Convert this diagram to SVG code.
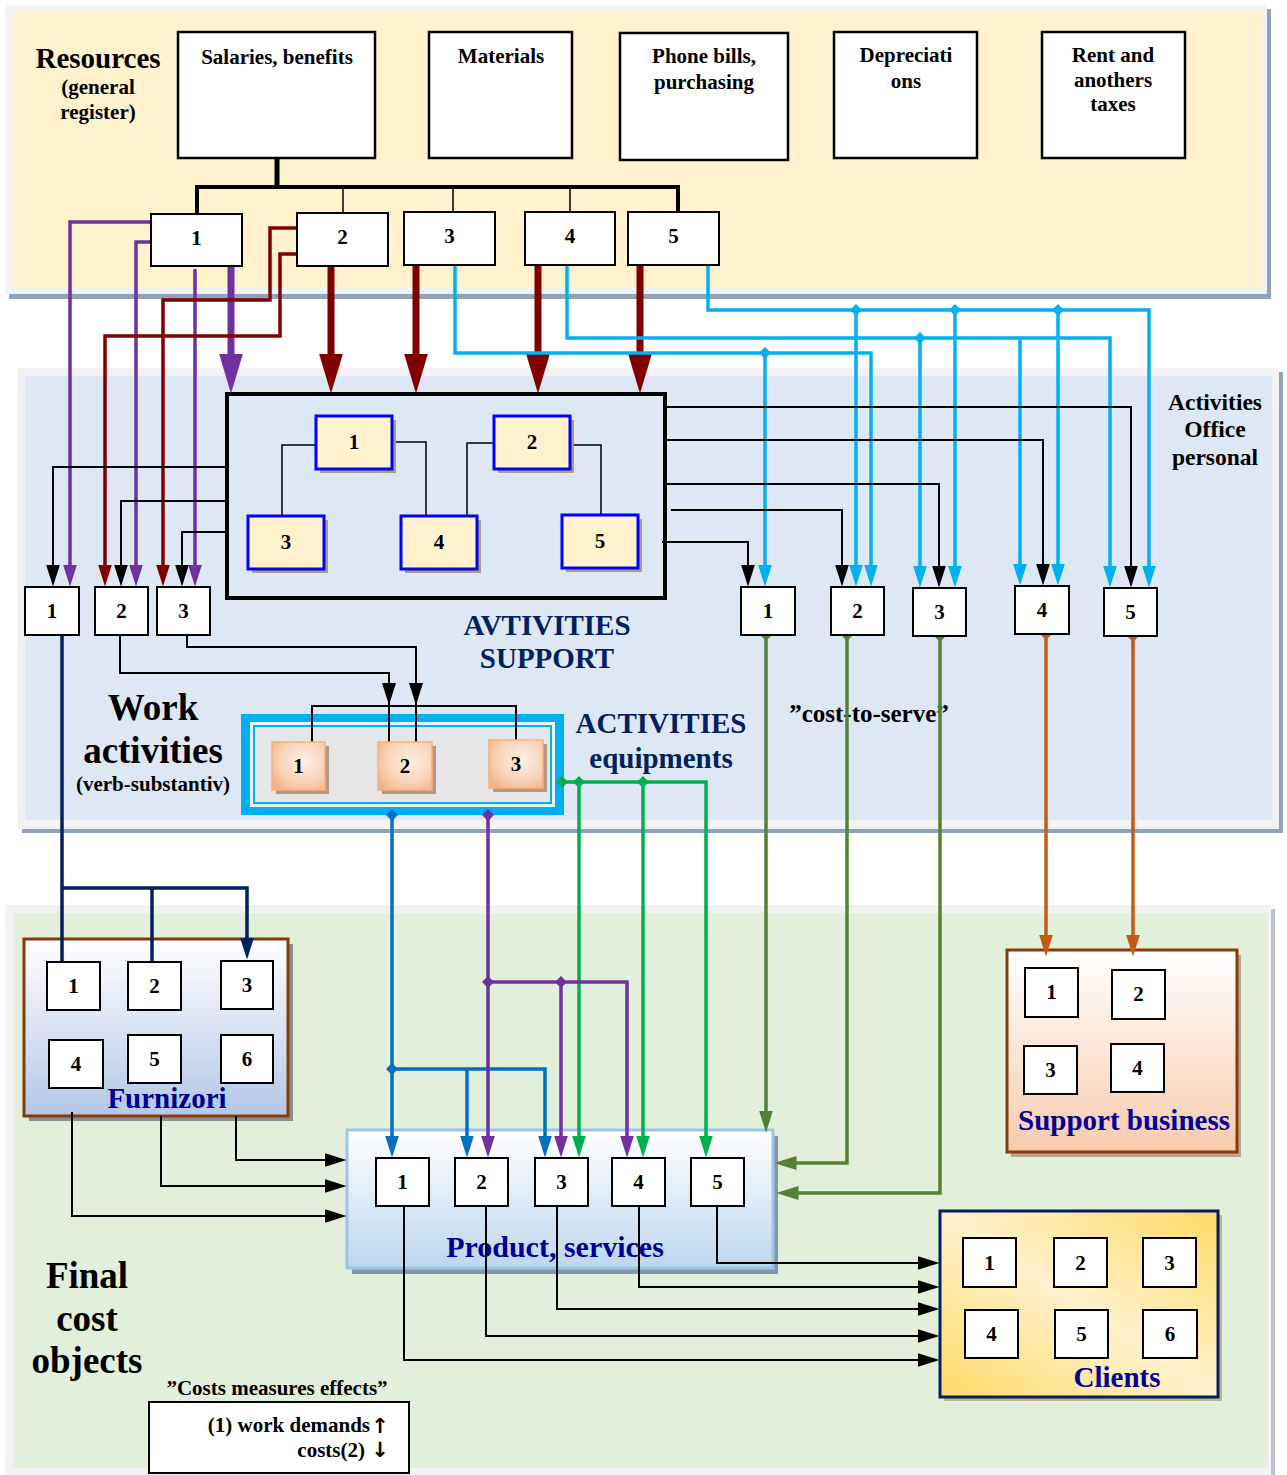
<svg xmlns="http://www.w3.org/2000/svg" width="1287" height="1475" viewBox="0 0 1287 1475">
<style>
.t{font-family:"Liberation Serif","Times New Roman",serif;font-weight:bold;fill:#000}
.n{font-size:21px;text-anchor:middle}
.h{text-anchor:middle}
.navy{fill:#002060}
.dblue{fill:#000099}
.wb{fill:#fff;stroke:#000;stroke-width:2}
.tb{fill:#fff;stroke:#000;stroke-width:2.5}
.yb{fill:#FFF2CC;stroke:#0000FF;stroke-width:3}
.ysh{fill:#A99E7F}
.ob{fill:url(#gOr);stroke:#F4B183;stroke-width:1.5}
.osh{fill:#B8977F}
.c{fill:none;stroke-linejoin:miter}
.k{stroke:#000;stroke-width:2}
.pu{stroke:#7030A0;stroke-width:3.5}
.dr{stroke:#800000;stroke-width:3.5}
.cy{stroke:#00B0F0;stroke-width:3.5}
.ol{stroke:#548235;stroke-width:3.5}
.or{stroke:#C55A11;stroke-width:3.5}
.gr{stroke:#00B050;stroke-width:3.5}
.bl{stroke:#0070C0;stroke-width:3.5}
.nv{stroke:#002060;stroke-width:3.5}
.thick{stroke-width:7}
</style>
<defs>
<linearGradient id="gFur" x1="0" y1="0" x2="0" y2="1"><stop offset="0" stop-color="#FFFFFF"/><stop offset="1" stop-color="#B4C7E7"/></linearGradient>
<linearGradient id="gSup" x1="0" y1="0" x2="0" y2="1"><stop offset="0" stop-color="#FFFFFF"/><stop offset="1" stop-color="#F8CBAD"/></linearGradient>
<linearGradient id="gPro" x1="0" y1="0" x2="0" y2="1"><stop offset="0" stop-color="#FFFFFF"/><stop offset="1" stop-color="#BDD7EE"/></linearGradient>
<linearGradient id="gCli" x1="0" y1="1" x2="1" y2="0"><stop offset="0" stop-color="#FFD966"/><stop offset="0.5" stop-color="#FFF2CC"/><stop offset="1" stop-color="#FFD966"/></linearGradient>
<radialGradient id="gOr" cx="0.6" cy="0.4" r="0.75"><stop offset="0" stop-color="#FDEEE4"/><stop offset="0.6" stop-color="#F9D3B8"/><stop offset="1" stop-color="#F4B183"/></radialGradient>
<marker id="aK" viewBox="0 0 22 14" markerWidth="22" markerHeight="14" refX="0.5" refY="7" orient="auto" markerUnits="userSpaceOnUse"><path d="M0,0 L22,7 L0,14 z" fill="#000"/></marker>
<marker id="aPu" viewBox="0 0 22 14" markerWidth="22" markerHeight="14" refX="0.5" refY="7" orient="auto" markerUnits="userSpaceOnUse"><path d="M0,0 L22,7 L0,14 z" fill="#7030A0"/></marker>
<marker id="aDr" viewBox="0 0 22 14" markerWidth="22" markerHeight="14" refX="0.5" refY="7" orient="auto" markerUnits="userSpaceOnUse"><path d="M0,0 L22,7 L0,14 z" fill="#800000"/></marker>
<marker id="aCy" viewBox="0 0 22 14" markerWidth="22" markerHeight="14" refX="0.5" refY="7" orient="auto" markerUnits="userSpaceOnUse"><path d="M0,0 L22,7 L0,14 z" fill="#00B0F0"/></marker>
<marker id="aOl" viewBox="0 0 22 14" markerWidth="22" markerHeight="14" refX="0.5" refY="7" orient="auto" markerUnits="userSpaceOnUse"><path d="M0,0 L22,7 L0,14 z" fill="#548235"/></marker>
<marker id="aOr" viewBox="0 0 22 14" markerWidth="22" markerHeight="14" refX="0.5" refY="7" orient="auto" markerUnits="userSpaceOnUse"><path d="M0,0 L22,7 L0,14 z" fill="#C55A11"/></marker>
<marker id="aGr" viewBox="0 0 22 14" markerWidth="22" markerHeight="14" refX="0.5" refY="7" orient="auto" markerUnits="userSpaceOnUse"><path d="M0,0 L22,7 L0,14 z" fill="#00B050"/></marker>
<marker id="aBl" viewBox="0 0 22 14" markerWidth="22" markerHeight="14" refX="0.5" refY="7" orient="auto" markerUnits="userSpaceOnUse"><path d="M0,0 L22,7 L0,14 z" fill="#0070C0"/></marker>
<marker id="aNv" viewBox="0 0 22 14" markerWidth="22" markerHeight="14" refX="0.5" refY="7" orient="auto" markerUnits="userSpaceOnUse"><path d="M0,0 L22,7 L0,14 z" fill="#002060"/></marker>
<marker id="tPu" viewBox="0 0 40 24" markerWidth="40" markerHeight="24" refX="0.5" refY="12" orient="auto" markerUnits="userSpaceOnUse"><path d="M0,0 L40,12 L0,24 z" fill="#7030A0"/></marker>
<marker id="tDr" viewBox="0 0 40 24" markerWidth="40" markerHeight="24" refX="0.5" refY="12" orient="auto" markerUnits="userSpaceOnUse"><path d="M0,0 L40,12 L0,24 z" fill="#800000"/></marker>
<marker id="dCy" viewBox="0 0 12 12" markerWidth="12" markerHeight="12" refX="6" refY="6" orient="0" markerUnits="userSpaceOnUse"><path d="M6,0 L12,6 L6,12 L0,6 z" fill="#00B0F0"/></marker>
<marker id="dOl" viewBox="0 0 12 12" markerWidth="12" markerHeight="12" refX="6" refY="6" orient="0" markerUnits="userSpaceOnUse"><path d="M6,0 L12,6 L6,12 L0,6 z" fill="#548235"/></marker>
<marker id="dOr" viewBox="0 0 12 12" markerWidth="12" markerHeight="12" refX="6" refY="6" orient="0" markerUnits="userSpaceOnUse"><path d="M6,0 L12,6 L6,12 L0,6 z" fill="#C55A11"/></marker>
<marker id="dGr" viewBox="0 0 12 12" markerWidth="12" markerHeight="12" refX="6" refY="6" orient="0" markerUnits="userSpaceOnUse"><path d="M6,0 L12,6 L6,12 L0,6 z" fill="#00B050"/></marker>
<marker id="dBl" viewBox="0 0 12 12" markerWidth="12" markerHeight="12" refX="6" refY="6" orient="0" markerUnits="userSpaceOnUse"><path d="M6,0 L12,6 L6,12 L0,6 z" fill="#0070C0"/></marker>
<marker id="dPu" viewBox="0 0 12 12" markerWidth="12" markerHeight="12" refX="6" refY="6" orient="0" markerUnits="userSpaceOnUse"><path d="M6,0 L12,6 L6,12 L0,6 z" fill="#7030A0"/></marker>
</defs>

<rect x="0" y="0" width="1287" height="1475" fill="#fff"/>

<g id="bands">
  <rect x="9" y="9" width="1262" height="290" fill="#8FA3BA"/>
  <rect x="5" y="5" width="1262" height="289" fill="#F2F2F2"/>
  <rect x="13" y="12" width="1249" height="276" fill="#FFF2CC"/>
  <rect x="22" y="372" width="1261" height="461" fill="#8FA3BA"/>
  <rect x="18" y="368" width="1261" height="461" fill="#F2F2F2"/>
  <rect x="25" y="376" width="1247" height="444" fill="#DEE8F4"/>
  <rect x="9" y="909" width="1266" height="570" fill="#B7C6D6"/>
  <rect x="5" y="905" width="1266" height="570" fill="#F2F2F2"/>
  <rect x="13" y="913" width="1255" height="555" fill="#E2EFDA"/>
</g>

<g id="labels">
  <text class="t h" x="98" y="68" font-size="29">Resources</text>
  <text class="t h" x="98" y="94" font-size="21">(general</text>
  <text class="t h" x="98" y="119" font-size="21">register)</text>
  <text class="t h" x="153" y="720" font-size="37">Work</text>
  <text class="t h" x="153" y="763" font-size="37">activities</text>
  <text class="t h" x="153" y="791" font-size="21">(verb-substantiv)</text>
  <text class="t h navy" x="547" y="635" font-size="29">AVTIVITIES</text>
  <text class="t h navy" x="547" y="668" font-size="29">SUPPORT</text>
  <text class="t h navy" x="661" y="733" font-size="29">ACTIVITIES</text>
  <text class="t h navy" x="661" y="768" font-size="29">equipments</text>
  <text class="t h" x="1215" y="410" font-size="23.5">Activities</text>
  <text class="t h" x="1215" y="437" font-size="23.5">Office</text>
  <text class="t h" x="1215" y="465" font-size="23.5">personal</text>
  <text class="t h" x="869" y="722" font-size="25">”cost-to-serve”</text>
  <text class="t h" x="87" y="1288" font-size="37">Final</text>
  <text class="t h" x="87" y="1331" font-size="37">cost</text>
  <text class="t h" x="87" y="1373" font-size="37">objects</text>
  <text class="t h" x="277" y="1395" font-size="21">”Costs measures effects”</text>
</g>

<g id="res-salaries"><rect class="tb" x="178" y="32" width="197" height="126"/><text class="t h" x="277" y="64" font-size="21">Salaries, benefits</text></g>
<g id="res-materials"><rect class="tb" x="429" y="32" width="143" height="126"/><text class="t h" x="501" y="63" font-size="21">Materials</text></g>
<g id="res-phone"><rect class="tb" x="620" y="33" width="168" height="127"/><text class="t h" x="704" y="63" font-size="21">Phone bills,</text><text class="t h" x="704" y="89" font-size="21">purchasing</text></g>
<g id="res-depr"><rect class="tb" x="834" y="32" width="143" height="126"/><text class="t h" x="906" y="62" font-size="21">Depreciati</text><text class="t h" x="906" y="88" font-size="21">ons</text></g>
<g id="res-rent"><rect class="tb" x="1042" y="32" width="143" height="126"/><text class="t h" x="1113" y="62" font-size="21">Rent and</text><text class="t h" x="1113" y="87" font-size="21">anothers</text><text class="t h" x="1113" y="111" font-size="21">taxes</text></g>

<g id="support">
  <rect x="227" y="394" width="438" height="204" fill="#DEE8F4" stroke="#000" stroke-width="4"/>
</g>
<g id="equipments">
  <rect x="241" y="714" width="323" height="101" fill="#00B0F0"/>
  <rect x="250" y="722" width="305" height="85" fill="#EAF3FB"/>
  <rect x="254" y="726" width="297" height="77" fill="#E7E6E6" stroke="#00B0F0" stroke-width="2"/>
</g>
<g id="furnizori">
  <rect x="29" y="944" width="264" height="177" fill="#8E8E8E"/>
  <rect x="24" y="939" width="264" height="177" fill="url(#gFur)" stroke="#843C0C" stroke-width="3"/>
  <text class="t h dblue" x="167" y="1108" font-size="29">Furnizori</text>
</g>
<g id="support-business">
  <rect x="1011" y="955" width="230" height="202" fill="#B9A590"/>
  <rect x="1007" y="950" width="230" height="202" fill="url(#gSup)" stroke="#843C0C" stroke-width="3"/>
  <text class="t h dblue" x="1124" y="1130" font-size="29">Support business</text>
</g>
<g id="product">
  <rect x="352" y="1136" width="426" height="138" fill="#8497B0"/>
  <rect x="347" y="1130" width="426" height="138" fill="url(#gPro)" stroke="#9DC3E6" stroke-width="3"/>
  <text class="t h dblue" x="555" y="1257" font-size="30">Product, services</text>
</g>
<g id="clients">
  <rect x="944" y="1215" width="278" height="186" fill="#BFB38A"/>
  <rect x="940" y="1211" width="278" height="186" fill="url(#gCli)" stroke="#002060" stroke-width="3"/>
  <text class="t h dblue" x="1117" y="1387" font-size="29">Clients</text>
</g>

<g id="connectors">
  <path class="c k" d="M197,214 V187 H678 V212" style="stroke-width:4"/>
  <path class="c k" d="M277,158 V187" style="stroke-width:5"/>
  <path class="c k" d="M343,187 V213 M453,187 V212 M570,187 V212" style="stroke-width:1.5"/>

  <path class="c pu" d="M151,222 H70 V565" marker-end="url(#aPu)"/>
  <path class="c pu" d="M151,242 H136 V565" marker-end="url(#aPu)"/>
  <path class="c pu" d="M195,269 V565" marker-end="url(#aPu)"/>
  <path class="c pu thick" d="M231,266 V354" marker-end="url(#tPu)"/>

  <path class="c dr" d="M297,228 H270 V300 H163 V565" marker-end="url(#aDr)"/>
  <path class="c dr" d="M297,254 H280 V336 H105 V565" marker-end="url(#aDr)"/>
  <path class="c dr thick" d="M331,266 V354" marker-end="url(#tDr)"/>
  <path class="c dr thick" d="M416,265 V354" marker-end="url(#tDr)"/>
  <path class="c dr thick" d="M538,265 V354" marker-end="url(#tDr)"/>
  <path class="c dr thick" d="M640,265 V354" marker-end="url(#tDr)"/>

  <path class="c cy" d="M455,265 V353 H871 V565" marker-end="url(#aCy)"/>
  <path class="c cy" d="M765,353 V565" marker-start="url(#dCy)" marker-end="url(#aCy)"/>
  <path class="c cy" d="M567,265 V338 H1110 V566" marker-end="url(#aCy)"/>
  <path class="c cy" d="M920,338 V566" marker-start="url(#dCy)" marker-end="url(#aCy)"/>
  <path class="c cy" d="M1020,338 V564" marker-end="url(#aCy)"/>
  <path class="c cy" d="M708,265 V310 H1149 V566" marker-end="url(#aCy)"/>
  <path class="c cy" d="M856,310 V565" marker-start="url(#dCy)" marker-end="url(#aCy)"/>
  <path class="c cy" d="M955,310 V566" marker-start="url(#dCy)" marker-end="url(#aCy)"/>
  <path class="c cy" d="M1058,310 V564" marker-start="url(#dCy)" marker-end="url(#aCy)"/>

  <path class="c k" d="M316,445 H282 V516 M392,442 H426 V516 M494,443 H467 V516 M570,445 H601 V515" style="stroke-width:1.5"/>

  <path class="c k" d="M227,467 H53 V565" marker-end="url(#aK)"/>
  <path class="c k" d="M227,501 H121 V565" marker-end="url(#aK)"/>
  <path class="c k" d="M227,532 H182 V565" marker-end="url(#aK)"/>
  <path class="c k" d="M665,407 H1131 V566" marker-end="url(#aK)"/>
  <path class="c k" d="M665,440 H1043 V564" marker-end="url(#aK)"/>
  <path class="c k" d="M665,484 H939 V566" marker-end="url(#aK)"/>
  <path class="c k" d="M671,510 H842 V565" marker-end="url(#aK)"/>
  <path class="c k" d="M662,542 H748 V565" marker-end="url(#aK)"/>

  <path class="c k" d="M120,635 V673 H389 V742"/>
  <path class="c k" d="M187,635 V647 H416 V742"/>
  <polygon points="382,683 396,683 389,705" fill="#000"/>
  <polygon points="409,683 423,683 416,705" fill="#000"/>
  <path class="c k" d="M312,742 V706 H516 V740"/>

  <path class="c nv" d="M62,635 V965"/>
  <path class="c nv" d="M62,888 H247 V938" marker-end="url(#aNv)"/>
  <path class="c nv" d="M152,888 V962"/>

  <path class="c ol" d="M766,635 V1111" marker-start="url(#dOl)" marker-end="url(#aOl)"/>
  <path class="c ol" d="M847,635 V1163 H796" marker-start="url(#dOl)" marker-end="url(#aOl)"/>
  <path class="c ol" d="M940,636 V1193 H798" marker-start="url(#dOl)" marker-end="url(#aOl)"/>

  <path class="c or" d="M1046,634 V935" marker-start="url(#dOr)" marker-end="url(#aOr)"/>
  <path class="c or" d="M1133,636 V935" marker-start="url(#dOr)" marker-end="url(#aOr)"/>

  <path class="c gr" d="M562,782 H706 V1136" marker-start="url(#dGr)" marker-end="url(#aGr)"/>
  <path class="c gr" d="M579,782 V1136" marker-start="url(#dGr)" marker-end="url(#aGr)"/>
  <path class="c gr" d="M643,782 V1136" marker-start="url(#dGr)" marker-end="url(#aGr)"/>

  <path class="c bl" d="M392,815 V1136" marker-start="url(#dBl)" marker-end="url(#aBl)"/>
  <path class="c bl" d="M392,1069 H545 V1136" marker-start="url(#dBl)" marker-end="url(#aBl)"/>
  <path class="c bl" d="M467,1069 V1136" marker-end="url(#aBl)"/>

  <path class="c pu" d="M488,815 V1136" marker-start="url(#dPu)" marker-end="url(#aPu)"/>
  <path class="c pu" d="M488,982 H627 V1136" marker-start="url(#dPu)" marker-end="url(#aPu)"/>
  <path class="c pu" d="M561,982 V1136" marker-start="url(#dPu)" marker-end="url(#aPu)"/>

  <path class="c k" d="M236,1116 V1160 H325" marker-end="url(#aK)"/>
  <path class="c k" d="M161,1116 V1186 H325" marker-end="url(#aK)"/>
  <path class="c k" d="M72,1112 V1216 H325" marker-end="url(#aK)"/>

  <path class="c k" d="M717,1206 V1263 H918" marker-end="url(#aK)"/>
  <path class="c k" d="M639,1206 V1287 H918" marker-end="url(#aK)"/>
  <path class="c k" d="M557,1206 V1309 H918" marker-end="url(#aK)"/>
  <path class="c k" d="M486,1206 V1336 H918" marker-end="url(#aK)"/>
  <path class="c k" d="M404,1206 V1360 H918" marker-end="url(#aK)"/>
</g>

<g id="res-1"><rect class="wb" x="151" y="214" width="91" height="52"/><text class="t n" x="196.5" y="245">1</text></g>
<g id="res-2"><rect class="wb" x="297" y="213" width="91" height="53"/><text class="t n" x="342.5" y="244">2</text></g>
<g id="res-3"><rect class="wb" x="404" y="212" width="91" height="53"/><text class="t n" x="449.5" y="243">3</text></g>
<g id="res-4"><rect class="wb" x="525" y="212" width="90" height="53"/><text class="t n" x="570" y="243">4</text></g>
<g id="res-5"><rect class="wb" x="628" y="212" width="91" height="53"/><text class="t n" x="673.5" y="243">5</text></g>

<g id="sup-1"><rect class="ysh" x="320" y="420" width="76" height="53"/><rect class="yb" x="316" y="416" width="76" height="53"/><text class="t n" x="354" y="449">1</text></g>
<g id="sup-2"><rect class="ysh" x="498" y="420" width="76" height="53"/><rect class="yb" x="494" y="416" width="76" height="53"/><text class="t n" x="532" y="449">2</text></g>
<g id="sup-3"><rect class="ysh" x="252" y="520" width="76" height="53"/><rect class="yb" x="248" y="516" width="76" height="53"/><text class="t n" x="286" y="549">3</text></g>
<g id="sup-4"><rect class="ysh" x="405" y="520" width="76" height="53"/><rect class="yb" x="401" y="516" width="76" height="53"/><text class="t n" x="439" y="549">4</text></g>
<g id="sup-5"><rect class="ysh" x="566" y="519" width="76" height="53"/><rect class="yb" x="562" y="515" width="76" height="53"/><text class="t n" x="600" y="548">5</text></g>

<g id="left-1"><rect class="wb" x="25" y="587" width="54" height="48"/><text class="t n" x="52" y="618">1</text></g>
<g id="left-2"><rect class="wb" x="95" y="587" width="53" height="48"/><text class="t n" x="121.5" y="618">2</text></g>
<g id="left-3"><rect class="wb" x="157" y="587" width="53" height="48"/><text class="t n" x="183.5" y="618">3</text></g>

<g id="right-1"><rect class="wb" x="741" y="587" width="54" height="48"/><text class="t n" x="768" y="618">1</text></g>
<g id="right-2"><rect class="wb" x="831" y="587" width="53" height="48"/><text class="t n" x="857.5" y="618">2</text></g>
<g id="right-3"><rect class="wb" x="913" y="588" width="53" height="48"/><text class="t n" x="939.5" y="619">3</text></g>
<g id="right-4"><rect class="wb" x="1015" y="586" width="54" height="48"/><text class="t n" x="1042" y="617">4</text></g>
<g id="right-5"><rect class="wb" x="1104" y="588" width="53" height="48"/><text class="t n" x="1130.5" y="619">5</text></g>

<g id="eq-1"><rect class="osh" x="276" y="746" width="53" height="48"/><rect class="ob" x="272" y="742" width="53" height="48"/><text class="t n" x="298.5" y="773">1</text></g>
<g id="eq-2"><rect class="osh" x="382" y="746" width="54" height="48"/><rect class="ob" x="378" y="742" width="54" height="48"/><text class="t n" x="405" y="773">2</text></g>
<g id="eq-3"><rect class="osh" x="493" y="744" width="54" height="48"/><rect class="ob" x="489" y="740" width="54" height="48"/><text class="t n" x="516" y="771">3</text></g>

<g id="fur-1"><rect class="wb" x="47" y="962" width="53" height="48"/><text class="t n" x="73.5" y="993">1</text></g>
<g id="fur-2"><rect class="wb" x="128" y="962" width="53" height="48"/><text class="t n" x="154.5" y="993">2</text></g>
<g id="fur-3"><rect class="wb" x="221" y="961" width="52" height="48"/><text class="t n" x="247" y="992">3</text></g>
<g id="fur-4"><rect class="wb" x="49" y="1040" width="54" height="48"/><text class="t n" x="76" y="1071">4</text></g>
<g id="fur-5"><rect class="wb" x="128" y="1035" width="53" height="48"/><text class="t n" x="154.5" y="1066">5</text></g>
<g id="fur-6"><rect class="wb" x="221" y="1035" width="52" height="48"/><text class="t n" x="247" y="1066">6</text></g>

<g id="sb-1"><rect class="wb" x="1025" y="968" width="53" height="49"/><text class="t n" x="1051.5" y="999">1</text></g>
<g id="sb-2"><rect class="wb" x="1112" y="970" width="53" height="49"/><text class="t n" x="1138.5" y="1001">2</text></g>
<g id="sb-3"><rect class="wb" x="1024" y="1046" width="53" height="48"/><text class="t n" x="1050.5" y="1077">3</text></g>
<g id="sb-4"><rect class="wb" x="1111" y="1044" width="53" height="48"/><text class="t n" x="1137.5" y="1075">4</text></g>

<g id="pr-1"><rect class="wb" x="376" y="1158" width="53" height="48"/><text class="t n" x="402.5" y="1189">1</text></g>
<g id="pr-2"><rect class="wb" x="455" y="1158" width="53" height="48"/><text class="t n" x="481.5" y="1189">2</text></g>
<g id="pr-3"><rect class="wb" x="535" y="1158" width="53" height="48"/><text class="t n" x="561.5" y="1189">3</text></g>
<g id="pr-4"><rect class="wb" x="612" y="1158" width="53" height="48"/><text class="t n" x="638.5" y="1189">4</text></g>
<g id="pr-5"><rect class="wb" x="691" y="1158" width="53" height="48"/><text class="t n" x="717.5" y="1189">5</text></g>

<g id="cl-1"><rect class="wb" x="963" y="1238" width="53" height="49"/><text class="t n" x="989.5" y="1270">1</text></g>
<g id="cl-2"><rect class="wb" x="1054" y="1238" width="53" height="49"/><text class="t n" x="1080.5" y="1270">2</text></g>
<g id="cl-3"><rect class="wb" x="1143" y="1238" width="53" height="49"/><text class="t n" x="1169.5" y="1270">3</text></g>
<g id="cl-4"><rect class="wb" x="965" y="1310" width="53" height="48"/><text class="t n" x="991.5" y="1341">4</text></g>
<g id="cl-5"><rect class="wb" x="1055" y="1310" width="53" height="48"/><text class="t n" x="1081.5" y="1341">5</text></g>
<g id="cl-6"><rect class="wb" x="1143" y="1310" width="54" height="48"/><text class="t n" x="1170" y="1341">6</text></g>

<g id="legend">
  <rect class="wb" x="149" y="1402" width="260" height="71"/>
  <text class="t" x="370" y="1432" font-size="21" text-anchor="end">(1) work demands</text>
  <text class="t" x="365" y="1457" font-size="21" text-anchor="end">costs(2)</text>
  <text x="380" y="1433" font-size="21" text-anchor="middle" font-family="DejaVu Sans, sans-serif" font-weight="bold">↑</text>
  <text x="380" y="1457" font-size="21" text-anchor="middle" font-family="DejaVu Sans, sans-serif" font-weight="bold">↓</text>
</g>
</svg>
